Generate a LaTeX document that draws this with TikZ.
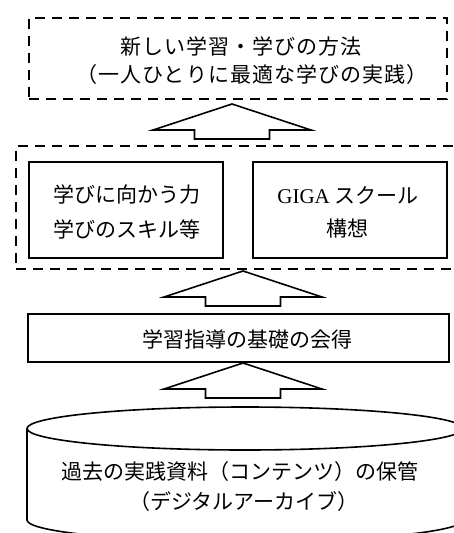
\documentclass[tikz,border=0pt]{standalone}
\usepackage{fontspec}
\setmainfont{Noto Sans CJK JP}
\newfontfamily\latinserif{Liberation Serif}
\newfontfamily\jpwide{Noto Sans CJK JP}[LetterSpace=5]
\begin{document}
\begin{tikzpicture}[x=1pt,y=-1pt,
  solidbox/.style={draw, line width=1.6pt, inner sep=0pt, outer sep=0pt, anchor=north west},
  dashbox/.style={draw, line width=2pt, dash pattern=on 10pt off 7pt, inner sep=0pt, outer sep=0pt, anchor=north west},
  txt/.style={font=\fontsize{21}{28}\selectfont, inner sep=0pt},
  widetxt/.style={font=\jpwide\fontsize{21}{28}\selectfont, inner sep=0pt},
  blockarrow/.style={draw, line width=1.6pt, fill=white, line join=miter},
  uparrow/.pic={\draw[blockarrow] (0,0) -- (79,26) -- (37.5,26) -- (37.5,35) -- (-37.5,35) -- (-37.5,26) -- (-79,26) -- cycle;}]
\useasboundingbox (0,0) rectangle (454,533);
\clip (0,0) rectangle (454,533);

% top dashed box
\node[dashbox, minimum width=418pt, minimum height=81pt] (top) at (29,18) {};
\node[widetxt] (a1) at (241,47) {新しい学習・学びの方法};
\node[widetxt] (a2) at (252,75) {（一人ひとりに最適な学びの実践）};

% middle dashed group
\node[dashbox, minimum width=446pt, minimum height=123pt] (mid) at (16,146) {};
\node[solidbox, minimum width=194pt, minimum height=96pt] (left) at (29,162) {};
\node[solidbox, minimum width=194pt, minimum height=96pt] (right) at (253,162) {};
\node[txt] (b1) at (127,195) {学びに向かう力};
\node[txt] (b2) at (127,229) {学びのスキル等};
\node[txt] (c1) at (348,195) {{\latinserif GIGA} スクール};
\node[txt] (c2) at (347,229) {構想};

% base box
\node[solidbox, minimum width=421pt, minimum height=48pt] (base) at (28,314) {};
\node[txt] (d) at (247,339) {学習指導の基礎の会得};

% cylinder
\draw[line width=1.6pt] (245,428.5) ellipse [x radius=218, y radius=21.5];
\draw[line width=1.6pt] (27,428.5) -- (27,520) arc[start angle=180, end angle=0, x radius=218, y radius=21.5] -- (463,428.5);
\node[txt] (e1) at (240,472) {過去の実践資料（コンテンツ）の保管};
\node[txt] (e2) at (244,502) {（デジタルアーカイブ）};

% block arrows
\pic at (232,104) {uparrow};
\pic at (243,271) {uparrow};
\pic at (243,363) {uparrow};
\end{tikzpicture}
\end{document}
